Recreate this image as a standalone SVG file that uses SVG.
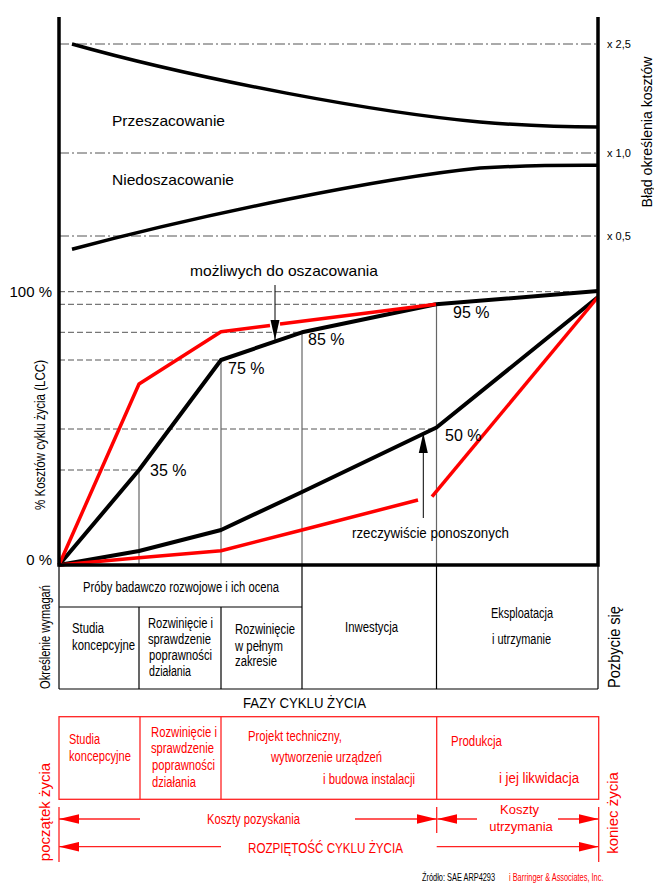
<svg xmlns="http://www.w3.org/2000/svg" width="654" height="884" viewBox="0 0 654 884">
<defs>
<style>
text{font-family:"Liberation Sans",Arial,sans-serif;fill:#000}
.f10{font-size:10px}.f11{font-size:11px}.f13{font-size:13px}.f14{font-size:14px}.f15{font-size:15px}.f16{font-size:16px}
.red{fill:#f00}
.mid{text-anchor:middle}.end{text-anchor:end}
.ax{stroke:#000;stroke-width:3.5;fill:none;stroke-linejoin:miter}
.dd{stroke:#555;stroke-width:1;stroke-dasharray:10 3 2 3;fill:none}
.dash{stroke:#555;stroke-width:1;stroke-dasharray:6 3;fill:none}
.vg{stroke:#666;stroke-width:1.2;fill:none}
.tb{stroke:#000;stroke-width:1.2;fill:none}
.kb{stroke:#000;stroke-width:4;fill:none;stroke-linejoin:round}
.kr{stroke:#f00;stroke-width:3.5;fill:none;stroke-linejoin:round}
.est{stroke:#000;stroke-width:3.5;fill:none;stroke-linejoin:round}
.rl{stroke:#f22;stroke-width:1.3;fill:none}
.ar{stroke:#000;stroke-width:1;fill:none}
</style>
<marker id="ahK" markerUnits="userSpaceOnUse" markerWidth="20" markerHeight="10" refX="20" refY="4.5" orient="auto-start-reverse" viewBox="0 0 20 9">
<path d="M0,0 L20,4.5 L0,9 z" fill="#000"/>
</marker>
<marker id="ahR" markerUnits="userSpaceOnUse" markerWidth="20" markerHeight="10" refX="20" refY="4.75" orient="auto-start-reverse" viewBox="0 0 20 9.5">
<path d="M0,0 L20,4.75 L0,9.5 z" fill="#f00"/>
</marker>
</defs>

<g id="estimate-error">
<line class="dd" x1="59" y1="44" x2="598" y2="44"/>
<line class="dd" x1="59" y1="153" x2="598" y2="153"/>
<line class="dd" x1="59" y1="236" x2="598" y2="236"/>
<path class="est" d="M72,44 C200,80 380,113 480,122 C530,126 560,127 597,127"/>
<path class="est" d="M72,249.3 C200,215 380,178 480,168 C530,165 560,165.3 597,165.3"/>
<text class="f15" x="112" y="126" textLength="113" lengthAdjust="spacingAndGlyphs">Przeszacowanie</text>
<text class="f15" x="112" y="185" textLength="122" lengthAdjust="spacingAndGlyphs">Niedoszacowanie</text>
<text class="f11" x="607" y="48">x 2,5</text>
<text class="f11" x="607" y="157">x 1,0</text>
<text class="f11" x="607" y="240">x 0,5</text>
<text class="f14 mid" transform="translate(652,132) rotate(-90)" textLength="151" lengthAdjust="spacingAndGlyphs">Błąd określenia kosztów</text>
</g>

<g id="lcc-chart">
<line class="dash" x1="59" y1="291.7" x2="598" y2="291.7"/>
<line class="dash" x1="59" y1="304.3" x2="436" y2="304.3"/>
<line class="dash" x1="59" y1="332.3" x2="302" y2="332.3"/>
<line class="dash" x1="59" y1="360" x2="221" y2="360"/>
<line class="dash" x1="59" y1="429" x2="436" y2="429"/>
<line class="dash" x1="59" y1="470" x2="139" y2="470"/>
<line class="vg" x1="139" y1="470" x2="139" y2="565"/>
<line class="vg" x1="221" y1="360" x2="221" y2="565"/>
<line class="vg" x1="302" y1="332" x2="302" y2="565"/>
<line class="vg" x1="436.5" y1="304" x2="436.5" y2="565"/>
<polyline class="kb" points="59,565 139,470 221,360 302,332.3 436,304.3 598,291"/>
<polyline class="kb" points="59,565 139,551 221,530 302,492 436.5,427.5 598,297"/>
<polyline class="kr" points="59,565 139,384 221,331.7 270,325.4"/>
<polyline class="kr" points="280,324.1 436,304.3"/>
<polyline class="kr" points="59,565 139,557.7 221,550.7 302,530 418,500"/>
<polyline class="kr" points="432,496.7 598,297"/>
<path class="ax" d="M59,17 V565 H598 V17"/>
<text class="f15 end" x="52" y="297">100 %</text>
<text class="f15 end" x="52" y="565">0 %</text>
<text class="f14 mid" transform="translate(45,435) rotate(-90)" textLength="150" lengthAdjust="spacingAndGlyphs">% Kosztów cyklu życia (LCC)</text>
<text class="f16" x="150" y="476">35 %</text>
<text class="f16" x="228" y="374">75 %</text>
<text class="f16" x="308" y="345">85 %</text>
<text class="f16" x="453" y="318">95 %</text>
<text class="f16" x="445" y="441">50 %</text>
</g>

<g id="connectors">
<line class="ar" x1="275" y1="285" x2="275" y2="340" marker-end="url(#ahK)"/>
<line class="ar" x1="423.3" y1="518" x2="423.3" y2="433" marker-end="url(#ahK)"/>
</g>

<g id="label-possible">
<text class="f15" x="190" y="276" textLength="188" lengthAdjust="spacingAndGlyphs">możliwych do oszacowania</text>
</g>
<g id="label-actual">
<text class="f15" x="352" y="538" textLength="157" lengthAdjust="spacingAndGlyphs">rzeczywiście ponoszonych</text>
</g>

<g id="phases-table">
<line class="tb" x1="59" y1="565" x2="59" y2="689"/>
<line class="tb" x1="598" y1="565" x2="598" y2="689"/>
<line class="tb" x1="59" y1="689" x2="598" y2="689"/>
<line class="tb" x1="59" y1="607" x2="302" y2="607"/>
<line class="tb" x1="139" y1="607" x2="139" y2="689"/>
<line class="tb" x1="221" y1="607" x2="221" y2="689"/>
<line class="tb" x1="302" y1="565" x2="302" y2="689"/>
<line class="tb" x1="436.5" y1="565" x2="436.5" y2="689"/>
<text class="f14" x="83" y="592" textLength="196" lengthAdjust="spacingAndGlyphs">Próby badawczo rozwojowe i ich ocena</text>
<text class="f14" x="72" y="633" textLength="32" lengthAdjust="spacingAndGlyphs">Studia</text>
<text class="f14" x="72" y="650" textLength="63" lengthAdjust="spacingAndGlyphs">koncepcyjne</text>
<text class="f14" x="148" y="628" textLength="65" lengthAdjust="spacingAndGlyphs">Rozwinięcie i</text>
<text class="f14" x="148" y="644" textLength="63" lengthAdjust="spacingAndGlyphs">sprawdzenie</text>
<text class="f14" x="149" y="660" textLength="63" lengthAdjust="spacingAndGlyphs">poprawności</text>
<text class="f14" x="149" y="676" textLength="42" lengthAdjust="spacingAndGlyphs">działania</text>
<text class="f14" x="235" y="634" textLength="60" lengthAdjust="spacingAndGlyphs">Rozwinięcie</text>
<text class="f14" x="235" y="651" textLength="48" lengthAdjust="spacingAndGlyphs">w pełnym</text>
<text class="f14" x="235" y="666" textLength="42" lengthAdjust="spacingAndGlyphs">zakresie</text>
<text class="f14" x="345" y="632" textLength="53" lengthAdjust="spacingAndGlyphs">Inwestycja</text>
<text class="f14" x="491" y="618" textLength="62" lengthAdjust="spacingAndGlyphs">Eksploatacja</text>
<text class="f14" x="492" y="644" textLength="59" lengthAdjust="spacingAndGlyphs">i utrzymanie</text>
<text class="f14 mid" transform="translate(50,637) rotate(-90)" textLength="104" lengthAdjust="spacingAndGlyphs">Określenie wymagań</text>
<text class="f16 mid" transform="translate(620,647) rotate(-90)" textLength="82" lengthAdjust="spacingAndGlyphs">Pozbycie się</text>
<text class="f15" x="243" y="708" textLength="123" lengthAdjust="spacingAndGlyphs">FAZY CYKLU ŻYCIA</text>
</g>

<g id="cost-table">
<rect class="rl" x="59" y="716.7" width="539.7" height="82.6"/>
<line class="rl" x1="140" y1="716.7" x2="140" y2="799.3"/>
<line class="rl" x1="221" y1="716.7" x2="221" y2="799.3"/>
<line class="rl" x1="436.7" y1="716.7" x2="436.7" y2="799.3"/>
<text class="f14 red" x="69" y="744" textLength="31" lengthAdjust="spacingAndGlyphs">Studia</text>
<text class="f14 red" x="69" y="761" textLength="62" lengthAdjust="spacingAndGlyphs">koncepcyjne</text>
<text class="f14 red" x="151" y="737" textLength="66" lengthAdjust="spacingAndGlyphs">Rozwinięcie i</text>
<text class="f14 red" x="151" y="753" textLength="63" lengthAdjust="spacingAndGlyphs">sprawdzenie</text>
<text class="f14 red" x="152" y="770" textLength="63" lengthAdjust="spacingAndGlyphs">poprawności</text>
<text class="f14 red" x="152" y="787" textLength="44" lengthAdjust="spacingAndGlyphs">działania</text>
<text class="f14 red" x="248" y="741" textLength="94" lengthAdjust="spacingAndGlyphs">Projekt techniczny,</text>
<text class="f14 red" x="271" y="762" textLength="111" lengthAdjust="spacingAndGlyphs">wytworzenie urządzeń</text>
<text class="f14 red" x="323" y="784" textLength="92" lengthAdjust="spacingAndGlyphs">i budowa instalacji</text>
<text class="f14 red" x="451" y="746" textLength="51" lengthAdjust="spacingAndGlyphs">Produkcja</text>
<text class="f14 red" x="499" y="783" textLength="80" lengthAdjust="spacingAndGlyphs">i jej likwidacja</text>
</g>

<g id="span-arrows">
<line class="rl" x1="59" y1="807" x2="59" y2="862"/>
<line class="rl" x1="598.7" y1="807" x2="598.7" y2="862"/>
<line class="rl" x1="436.7" y1="807" x2="436.7" y2="833"/>
<line class="rl" x1="59" y1="819" x2="140" y2="819" marker-start="url(#ahR)"/>
<line class="rl" x1="355" y1="819" x2="436.7" y2="819" marker-end="url(#ahR)"/>
<line class="rl" x1="437.3" y1="819" x2="477" y2="819" marker-start="url(#ahR)"/>
<line class="rl" x1="558" y1="819" x2="598.7" y2="819" marker-end="url(#ahR)"/>
<line class="rl" x1="59" y1="846.7" x2="221" y2="846.7" marker-start="url(#ahR)"/>
<line class="rl" x1="436.7" y1="846.7" x2="598.7" y2="846.7" marker-end="url(#ahR)"/>
<text class="f14 red" x="207" y="824" textLength="93" lengthAdjust="spacingAndGlyphs">Koszty pozyskania</text>
<text class="f13 red mid" x="519.5" y="814">Koszty</text>
<text class="f13 red mid" x="521" y="831">utrzymania</text>
<text class="f15 red" x="248" y="853" textLength="155" lengthAdjust="spacingAndGlyphs">ROZPIĘTOŚĆ CYKLU ŻYCIA</text>
<text class="f15 red mid" transform="translate(50,812) rotate(-90)">początek życia</text>
<text class="f15 red mid" transform="translate(618,813) rotate(-90)">koniec życia</text>
</g>

<g id="source">
<text class="f10" transform="translate(422,881) scale(0.74,1)">Źródło:  SAE ARP4293</text>
<text class="f10 red" transform="translate(509,881) scale(0.74,1)">i Barringer &amp; Associates, Inc.</text>
</g>
</svg>
